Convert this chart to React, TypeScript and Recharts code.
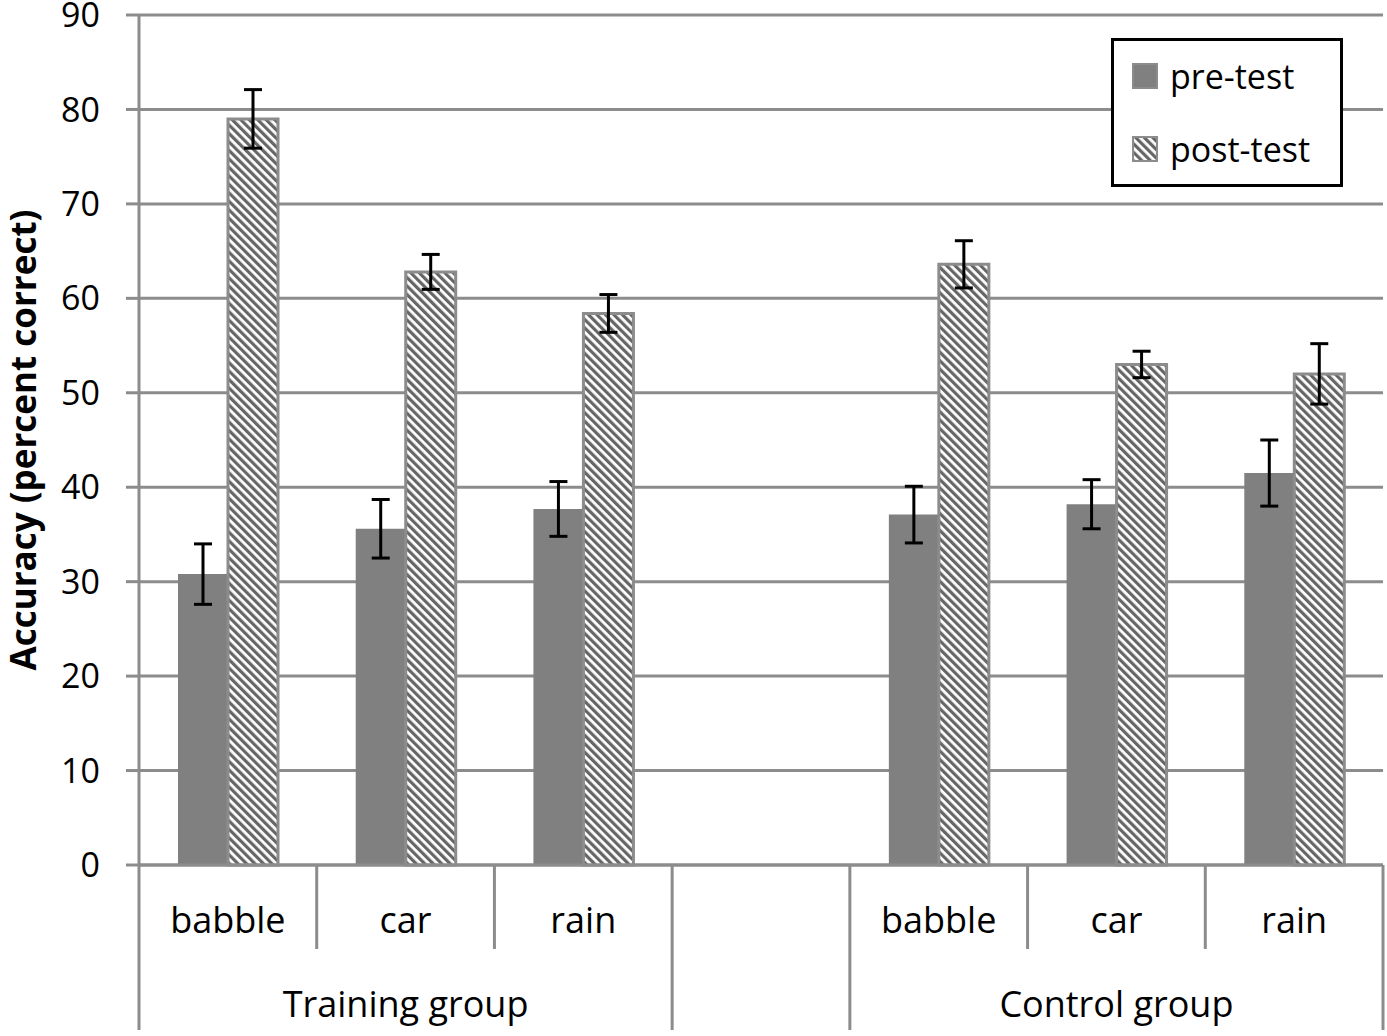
import { BarChart, Bar, XAxis, YAxis, CartesianGrid, ErrorBar, Label } from "recharts";

const categories = ["babble", "car", "rain", "", "babble", "car", "rain"];
const groups = ["Training group", "Training group", "Training group", "", "Control group", "Control group", "Control group"];
const preTest = [30.8, 35.6, 37.7, null, 37.1, 38.2, 41.5];
const postTest = [79.0, 62.8, 58.4, null, 63.6, 53.0, 52.0];
const preErr = [3.2, 3.1, 2.9, null, 3.0, 2.6, 3.5];
const postErr = [3.1, 1.85, 2.0, null, 2.5, 1.4, 3.2];
const yTicks = [0, 10, 20, 30, 40, 50, 60, 70, 80, 90];
const seriesNames = ["pre-test", "post-test"];

const data = categories.map((name, i) => ({
  id: i,
  name,
  group: groups[i],
  pre: preTest[i],
  post: postTest[i],
  preErr: preErr[i],
  postErr: postErr[i],
}));

const W = 1387;
const H = 1036;
const M = { top: 15, right: 4, left: 0, bottom: 0 };
const Y_W = 139;
const X_H = 171;
const BAND = (W - M.right - M.left - Y_W) / categories.length;
const GRAY = "#8c8c8c";
const FONT = "'Open Sans', sans-serif";

const XTick = (props: any) => {
  const { x, y, index } = props;
  const axisY = H - X_H;
  const g = groups[index];
  const next = groups[index + 1];
  const sameGroup = next !== undefined && next === g && g !== "";
  const rightX = x + BAND / 2;
  const members = groups.map((v, i) => (v === g ? i : -1)).filter((i) => i >= 0);
  const isMid = g !== "" && members[Math.floor(members.length / 2)] === index;
  const groupCenter = x + ((members[0] + members[members.length - 1]) / 2 - index) * BAND;
  return (
    <g>
      {index === 0 && (
        <line x1={x - BAND / 2} x2={x - BAND / 2} y1={axisY - 1} y2={H - 6} stroke={GRAY} strokeWidth={3} />
      )}
      <line x1={rightX} x2={rightX} y1={axisY} y2={sameGroup ? axisY + 84 : H - 6} stroke={GRAY} strokeWidth={3} />
      <text x={x} y={y + 60} textAnchor="middle" fontSize={36} fontFamily={FONT} fill="#000">
        {categories[index]}
      </text>
      {isMid && (
        <text x={groupCenter} y={y + 144} textAnchor="middle" fontSize={36} fontFamily={FONT} fill="#000">
          {g}
        </text>
      )}
    </g>
  );
};

const Swatch = ({ hatched }: { hatched: boolean }) => (
  <svg width={26} height={26} style={{ display: "block" }}>
    <rect x={1} y={1} width={24} height={24} fill={hatched ? "url(#hatch)" : "#808080"} stroke={GRAY} strokeWidth={2} />
  </svg>
);

export default function App() {
  return (
    <div style={{ position: "absolute", left: 0, top: 0, width: W, height: H, background: "#fff" }}>
      <svg width={0} height={0} style={{ position: "absolute" }}>
        <defs>
          <pattern id="hatch" patternUnits="userSpaceOnUse" width={6} height={6} patternTransform="rotate(-45)">
            <rect width={6} height={6} fill="#fff" />
            <rect width={3.2} height={6} fill="#666" />
          </pattern>
        </defs>
      </svg>
      <BarChart width={W} height={H} data={data} margin={M} barGap={0} barSize={50}>
        <CartesianGrid vertical={false} stroke={GRAY} strokeWidth={3} />
        <XAxis
          dataKey="id"
          type="category"
          height={X_H}
          axisLine={{ stroke: GRAY, strokeWidth: 3 }}
          tickLine={false}
          interval={0}
          tick={<XTick />}
        />
        <YAxis
          width={Y_W}
          domain={[0, 90]}
          ticks={yTicks}
          interval={0}
          axisLine={{ stroke: GRAY, strokeWidth: 3 }}
          tickLine={{ stroke: GRAY, strokeWidth: 3 }}
          tickSize={13}
          tickMargin={26}
          tick={{ fontSize: 34, fontFamily: FONT, fill: "#000" }}
        >
          <Label
            content={(p: any) => {
              const vb = p.viewBox;
              const cx = 22;
              const cy = vb.y + vb.height / 2;
              return (
                <text
                  x={cx}
                  y={cy}
                  transform={`rotate(-90 ${cx} ${cy})`}
                  textAnchor="middle"
                  dominantBaseline="central"
                  fontSize={35}
                  fontWeight="bold"
                  fontFamily={FONT}
                  fill="#000"
                >
                  Accuracy (percent correct)
                </text>
              );
            }}
          />
        </YAxis>
        <Bar dataKey="pre" name={seriesNames[0]} fill="#808080" isAnimationActive={false}>
          <ErrorBar dataKey="preErr" width={9} stroke="#000" strokeWidth={3} direction="y" />
        </Bar>
        <Bar dataKey="post" name={seriesNames[1]} fill="url(#hatch)" stroke={GRAY} strokeWidth={3} isAnimationActive={false}>
          <ErrorBar dataKey="postErr" width={9} stroke="#000" strokeWidth={3} direction="y" />
        </Bar>
      </BarChart>
      <div
        style={{
          position: "absolute",
          left: 1111,
          top: 38,
          width: 226,
          height: 143,
          border: "3px solid #000",
          background: "#fff",
          fontFamily: FONT,
          fontSize: 34,
          color: "#000",
        }}
      >
        {seriesNames.map((n, i) => (
          <div
            key={n}
            style={{ position: "absolute", left: 18, top: 16 + i * 73, display: "flex", alignItems: "center", gap: 12, lineHeight: "38px" }}
          >
            <Swatch hatched={i === 1} />
            <span>{n}</span>
          </div>
        ))}
      </div>
    </div>
  );
}
